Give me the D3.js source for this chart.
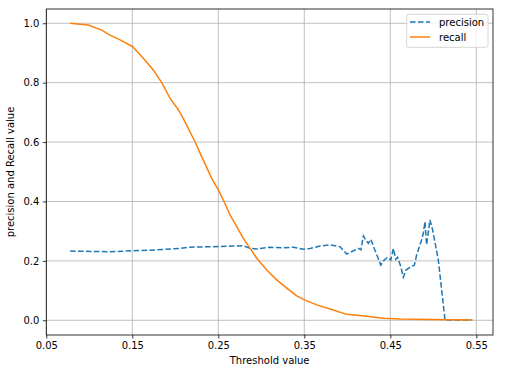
<!DOCTYPE html>
<html>
<head>
<meta charset="utf-8">
<script src="https://cdn.jsdelivr.net/npm/d3@7"></script>
<style>
	body { margin: 0; background: #fff; }
	svg { font-family: "DejaVu Sans", sans-serif; }
</style>
</head>
<body>
<svg id="chart" width="507" height="371"></svg>
<script>
// threshold / recall pairs
var recallT = [0.0776, 0.0988, 0.1144, 0.1241, 0.1358, 0.1505, 0.1628, 0.1744, 0.1842, 0.1938,
	0.2035, 0.2093, 0.2229, 0.2307, 0.2423, 0.25, 0.2558, 0.2636, 0.2714, 0.2791,
	0.2869, 0.2947, 0.3063, 0.3179, 0.3314, 0.3412, 0.3508, 0.3644, 0.3799, 0.3993,
	0.4226, 0.4419, 0.4613, 0.50, 0.5453];
var recallV = [1.000, 0.994, 0.977, 0.960, 0.944, 0.921, 0.882, 0.843, 0.800, 0.748,
	0.709, 0.679, 0.601, 0.551, 0.478, 0.439, 0.405, 0.355, 0.315, 0.276,
	0.242, 0.209, 0.169, 0.136, 0.104, 0.082, 0.068, 0.052, 0.038, 0.020,
	0.014, 0.007, 0.004, 0.003, 0.001];

// threshold / precision pairs
var precT = [0.0776, 0.124, 0.151, 0.178, 0.205, 0.217, 0.244, 0.267, 0.279, 0.2869,
	0.2947, 0.2985, 0.310, 0.3257, 0.3373, 0.3489, 0.3567, 0.3683, 0.3799, 0.3915,
	0.3993, 0.4071, 0.4129, 0.4158, 0.4187, 0.4216, 0.4245, 0.4274, 0.4313, 0.4352,
	0.439, 0.4429, 0.4468, 0.4506, 0.4535, 0.4564, 0.4584, 0.4623, 0.4651, 0.4681,
	0.4729, 0.478, 0.4806, 0.4864, 0.4884, 0.4903, 0.4922, 0.4961, 0.4992, 0.5058,
	0.5136, 0.53, 0.5453];
var precV = [0.233, 0.231, 0.234, 0.237, 0.242, 0.246, 0.248, 0.250, 0.251, 0.242,
	0.240, 0.242, 0.246, 0.244, 0.246, 0.239, 0.242, 0.250, 0.254, 0.248,
	0.223, 0.234, 0.242, 0.237, 0.284, 0.270, 0.259, 0.273, 0.242, 0.214,
	0.186, 0.203, 0.212, 0.203, 0.242, 0.205, 0.212, 0.180, 0.145, 0.169,
	0.178, 0.186, 0.220, 0.270, 0.293, 0.332, 0.254, 0.338, 0.304, 0.203,
	0.001, 0.001, 0.001];

var xTicks = [0.05, 0.15, 0.25, 0.35, 0.45, 0.55];
var yTicks = [0.0, 0.2, 0.4, 0.6, 0.8, 1.0];

var svg = d3.select("#chart");
var pLeft = 46.3, pRight = 493, pTop = 9, pBottom = 335;

var x = d3.scaleLinear().domain([0.05, 0.5694]).range([pLeft, pRight]);
var y = d3.scaleLinear().domain([-0.0495, 1.048]).range([pBottom, pTop]);

var grid = svg.append("g");
xTicks.forEach(function(t) {
	grid.append("line")
		.attr("x1", x(t)).attr("x2", x(t))
		.attr("y1", pTop).attr("y2", pBottom)
		.attr("stroke", "#b0b0b0").attr("stroke-width", 0.8);
});
yTicks.forEach(function(t) {
	grid.append("line")
		.attr("x1", pLeft).attr("x2", pRight)
		.attr("y1", y(t)).attr("y2", y(t))
		.attr("stroke", "#b0b0b0").attr("stroke-width", 0.8);
});

var line = d3.line()
	.x(function(d) { return x(d[0]); })
	.y(function(d) { return y(d[1]); });

var precData = precT.map(function(t, i) { return [t, precV[i]]; });
var recallData = recallT.map(function(t, i) { return [t, recallV[i]]; });

svg.append("path")
	.attr("d", line(precData))
	.attr("fill", "none")
	.attr("stroke", "#1f77b4")
	.attr("stroke-width", 1.5)
	.attr("stroke-dasharray", "5.55,2.4");
svg.append("path")
	.attr("d", line(recallData))
	.attr("fill", "none")
	.attr("stroke", "#ff7f0e")
	.attr("stroke-width", 1.5);

// frame
svg.append("rect")
	.attr("x", pLeft).attr("y", pTop)
	.attr("width", pRight - pLeft).attr("height", pBottom - pTop)
	.attr("fill", "none").attr("stroke", "#000").attr("stroke-width", 0.8);

var xAxis = svg.append("g").attr("transform", "translate(0," + pBottom + ")")
	.call(d3.axisBottom(x).tickValues(xTicks).tickSize(3.5).tickPadding(3.5)
		.tickFormat(d3.format(".2f")));
var yAxis = svg.append("g").attr("transform", "translate(" + pLeft + ",0)")
	.call(d3.axisLeft(y).tickValues(yTicks).tickSize(3.5).tickPadding(3.5)
		.tickFormat(d3.format(".1f")));
[xAxis, yAxis].forEach(function(a) {
	a.select(".domain").remove();
	a.selectAll("line").attr("stroke", "#000").attr("stroke-width", 0.8);
	a.selectAll("text").attr("font-size", 10).attr("fill", "#000")
		.attr("font-family", "DejaVu Sans");
});

svg.append("text")
	.attr("x", (pLeft + pRight) / 2).attr("y", 364)
	.attr("text-anchor", "middle").attr("font-size", 10)
	.text("Threshold value");
svg.append("text")
	.attr("transform", "translate(14," + ((pTop + pBottom) / 2) + ") rotate(-90)")
	.attr("text-anchor", "middle").attr("font-size", 10)
	.text("precision and Recall value");

// legend
var legend = svg.append("g");
legend.append("rect")
	.attr("x", 406.7).attr("y", 14.3).attr("width", 81.3).attr("height", 33)
	.attr("rx", 2).attr("fill", "#fff").attr("fill-opacity", 0.8)
	.attr("stroke", "#ccc").attr("stroke-width", 0.8);
var items = [["precision", "#1f77b4", "5.55,2.4"], ["recall", "#ff7f0e", null]];
items.forEach(function(it, i) {
	var yy = 22 + i * 15;
	legend.append("line")
		.attr("x1", 410).attr("x2", 430).attr("y1", yy).attr("y2", yy)
		.attr("stroke", it[1]).attr("stroke-width", 1.5)
		.attr("stroke-dasharray", it[2]);
	legend.append("text")
		.attr("x", 439).attr("y", yy + 3.5).attr("font-size", 10)
		.text(it[0]);
});
</script>
</body>
</html>
